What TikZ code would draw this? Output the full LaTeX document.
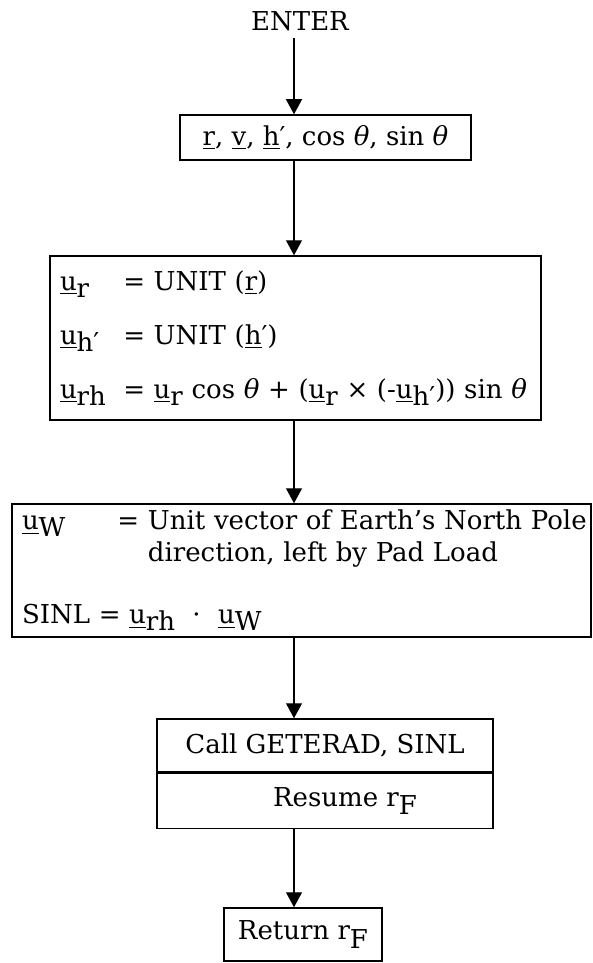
\documentclass[tikz,border=0pt]{standalone}
\usepackage{fontspec}
\setmainfont{DejaVu Serif}
\usetikzlibrary{arrows.meta}

\newcommand{\vb}[1]{\underline{#1}}
\newcommand{\vs}[2]{\underline{#1}\raisebox{-0.5ex}{#2}}
\newcommand{\thet}{\textit{θ}}

\begin{document}
\begin{tikzpicture}[x=0.5pt, y=-0.5pt,
  box/.style={draw, line width=0.75pt, inner xsep=5pt, inner ysep=0pt, font=\fontsize{13}{16}\selectfont},
  flow/.style={-{Triangle[width=8pt,length=7.5pt]}, line width=0.6pt}]
  % Draw frame
  \useasboundingbox (0,0) rectangle (593,963);

  % Draw entry and spine of arrows
  \node [font=\fontsize{13}{16}\selectfont] (enter) at (300,21) {ENTER};
  \coordinate (spine) at (294,0);

  % Draw boxes
  \node [box, minimum width=145.5pt, minimum height=22.5pt] (inputs) at (325.5,137.5)
    {\vb{r}, \vb{v}, \vb{h}′, cos \thet, sin \thet};
  \node [box, minimum width=245.5pt, minimum height=82pt, text width=235.5pt, align=left] (units) at (295.5,338)
    {\begin{tabular}{@{}l@{\ \ }l@{}}
      \vs{u}{r} & = UNIT (\vb{r})\\[11pt]
      \vs{u}{h′} & = UNIT (\vb{h}′)\\[11pt]
      \vs{u}{rh} & = \vs{u}{r} cos \thet\ + (\vs{u}{r} × (-\vs{u}{h′})) sin \thet
    \end{tabular}};
  \node [box, minimum width=289.5pt, minimum height=66.5pt, text width=279.5pt, align=left] (pole) at (301.5,570.5)
    {\begin{tabular}{@{}l@{\qquad}l@{}}
      \vs{u}{W} & = Unit vector of Earth's North Pole\\
       & \phantom{=} direction, left by Pad Load\\[15pt]
      \multicolumn{2}{@{}l@{}}{SINL = \vs{u}{rh}\ \ ·\ \ \vs{u}{W}}
    \end{tabular}};
  \node [box, minimum width=168pt, minimum height=26.5pt] (call) at (325,745.5) {Call GETERAD, SINL};
  \node [box, minimum width=168pt, minimum height=27.5pt, anchor=north] (resume) at (call.south) {\hspace{20pt}Resume r\raisebox{-0.6ex}{F}};
  \node [box, minimum width=79pt, minimum height=26.5pt] (return) at (303,934.5) {Return r\raisebox{-0.6ex}{F}};

  % Draw arrows
  \draw [flow] (spine |- enter.south) -- (spine |- inputs.north);
  \draw [flow] (spine |- inputs.south) -- (spine |- units.north);
  \draw [flow] (spine |- units.south) -- (spine |- pole.north);
  \draw [flow] (spine |- pole.south) -- (spine |- call.north);
  \draw [flow] (spine |- resume.south) -- (spine |- return.north);
\end{tikzpicture}
\end{document}
